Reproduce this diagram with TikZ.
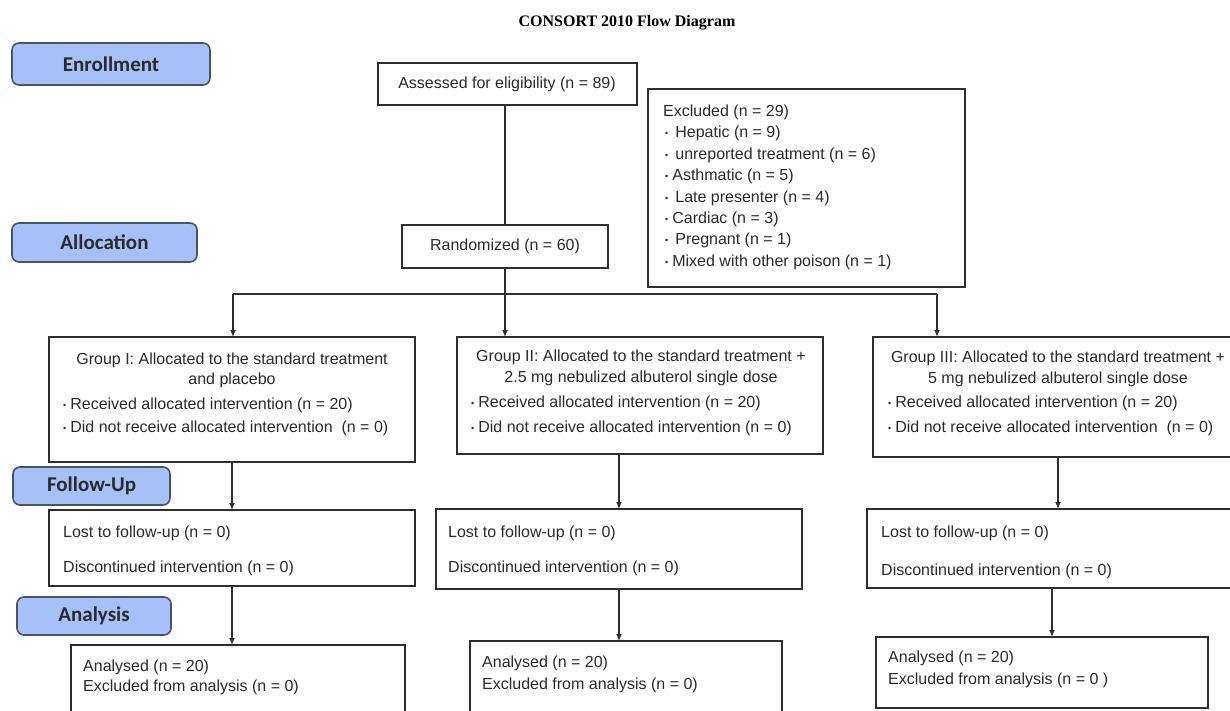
\documentclass[tikz,border=0pt]{standalone}
\usepackage{fontspec}
\setmainfont{Liberation Sans}
\newfontfamily\titlefont{Liberation Serif}
\newfontfamily\labfont{Carlito}
\usetikzlibrary{arrows.meta}
\definecolor{txtc}{HTML}{2A2A2A}
\definecolor{boxc}{HTML}{2E2E2E}
\definecolor{lblfill}{HTML}{A6C1F7}
\definecolor{lbldraw}{HTML}{4B5263}
\newcommand{\bul}{{\fontsize{9}{9}\selectfont\raisebox{1pt}{•}}\hspace{4pt}}
\begin{document}
\begin{tikzpicture}[x=1pt,y=-1pt,
  font=\fontsize{16}{19}\selectfont,
  box/.style={draw=boxc, line width=1.8pt, anchor=north west, inner sep=0pt, outer sep=0pt},
  phase/.style={draw=lbldraw, fill=lblfill, line width=1.6pt, rounded corners=7pt,
    anchor=north west, inner sep=0pt, outer sep=0pt, text=txtc,
    font=\labfont\bfseries\fontsize{21}{21}\selectfont},
  tl/.style={anchor=west, inner sep=0pt, text=txtc},
  tc/.style={anchor=center, inner sep=0pt, text=txtc},
  conn/.style={draw=boxc, line width=1.4pt},
  arr/.style={conn, -{Latex[length=7pt,width=6pt]}}]
\useasboundingbox (0,0) rectangle (1230,710);

% title
\node[font=\titlefont\bfseries\fontsize{16}{16}\selectfont, text=black] (title) at (627,23) {CONSORT 2010 Flow Diagram};

% phase labels
\node[phase, minimum width=198pt, minimum height=42pt] (enr) at (12,43) {Enrollment};
\node[phase, minimum width=185pt, minimum height=39pt] (alloc) at (12,223) {Allocation};
\node[phase, minimum width=157pt, minimum height=38pt] (fu) at (13,467) {Follow-Up};
\node[phase, minimum width=154pt, minimum height=38pt] (ana) at (17,597) {Analysis};

% boxes
\node[box, minimum width=259pt, minimum height=42pt] (assess) at (378,63) {};
\node[box, minimum width=206pt, minimum height=43pt] (rand) at (402,225) {};
\node[box, minimum width=317pt, minimum height=198pt] (excl) at (648,89) {};
\node[box, minimum width=366pt, minimum height=125pt] (g1) at (49,337) {};
\node[box, minimum width=366pt, minimum height=117pt] (g2) at (457,337) {};
\node[box, minimum width=370pt, minimum height=120pt] (g3) at (873,337) {};
\node[box, minimum width=366pt, minimum height=76pt] (l1) at (49,510) {};
\node[box, minimum width=366pt, minimum height=80pt] (l2) at (436,509) {};
\node[box, minimum width=370pt, minimum height=79pt] (l3) at (867,509) {};
\node[box, minimum width=334pt, minimum height=100pt] (a1) at (71,645) {};
\node[box, minimum width=312pt, minimum height=100pt] (a2) at (470,641) {};
\node[box, minimum width=332pt, minimum height=71pt] (a3) at (876,637) {};

% texts
\node[tc] (tassess) at (507,84) {Assessed for eligibility (n = 89)};
\node[tc] (trand) at (505,246) {Randomized (n = 60)};

\node[tl] (e0) at (663,112) {Excluded (n = 29)};
\node[tl] (e1) at (665,133) {\bul\hspace{3pt}Hepatic (n = 9)};
\node[tl] (e2) at (665,155) {\bul\hspace{3pt}unreported treatment (n = 6)};
\node[tl] (e3) at (665,176) {\bul Asthmatic (n = 5)};
\node[tl] (e4) at (665,198) {\bul\hspace{3pt}Late presenter (n = 4)};
\node[tl] (e5) at (665,219) {\bul Cardiac (n = 3)};
\node[tl] (e6) at (665,240) {\bul\hspace{3pt}Pregnant (n = 1)};
\node[tl] (e7) at (665,262) {\bul Mixed with other poison (n = 1)};

\node[tc] (g1a) at (232,360) {Group I: Allocated to the standard treatment};
\node[tc] (g1b) at (232,380) {and placebo};
\node[tl] (g1c) at (63,405) {\bul Received allocated intervention (n = 20)};
\node[tl] (g1d) at (63,428) {\bul Did not receive allocated intervention\ \ (n = 0)};

\node[tc] (g2a) at (641,357) {Group II: Allocated to the standard treatment +};
\node[tc] (g2b) at (641,378) {2.5 mg nebulized albuterol single dose};
\node[tl] (g2c) at (471,403) {\bul Received allocated intervention (n = 20)};
\node[tl] (g2d) at (471,428) {\bul Did not receive allocated intervention (n = 0)};

\node[tc] (g3a) at (1058,358) {Group III: Allocated to the standard treatment +};
\node[tc] (g3b) at (1058,379) {5 mg nebulized albuterol single dose};
\node[tl] (g3c) at (888,403) {\bul Received allocated intervention (n = 20)};
\node[tl] (g3d) at (888,428) {\bul Did not receive allocated intervention\ \ (n = 0)};

\node[tl] (l1a) at (63,533) {Lost to follow-up (n = 0)};
\node[tl] (l1b) at (63,568) {Discontinued intervention (n = 0)};
\node[tl] (l2a) at (448,533) {Lost to follow-up (n = 0)};
\node[tl] (l2b) at (448,568) {Discontinued intervention (n = 0)};
\node[tl] (l3a) at (881,533) {Lost to follow-up (n = 0)};
\node[tl] (l3b) at (881,571) {Discontinued intervention (n = 0)};

\node[tl] (a1a) at (83,667) {Analysed (n = 20)};
\node[tl] (a1b) at (83,687) {Excluded from analysis (n = 0)};
\node[tl] (a2a) at (482,663) {Analysed (n = 20)};
\node[tl] (a2b) at (482,685) {Excluded from analysis (n = 0)};
\node[tl] (a3a) at (888,658) {Analysed (n = 20)};
\node[tl] (a3b) at (888,680) {Excluded from analysis (n = 0 )};

% connectors
\coordinate (hl) at (233,294);
\coordinate (hr) at (937,294);
\draw[conn] (assess.south -| rand.north) -- (rand.north);
\draw[conn] (hl) -- (hr);
\draw[arr] (rand.south) -- (rand.south |- g2.north);
\draw[arr] (hl) -- (hl |- g1.north);
\draw[arr] (hr) -- (hr |- g3.north);
\draw[arr] (l1.north |- g1.south) -- (l1.north);
\draw[arr] (l1.south) -- (l1.south |- a1.north);
\draw[arr] (l2.north |- g2.south) -- (l2.north);
\draw[arr] (l2.south) -- (l2.south |- a2.north);
\draw[arr] (g3.south) -- (g3.south |- l3.north);
\draw[arr] (l3.south) -- (l3.south |- a3.north);
\end{tikzpicture}
\end{document}
